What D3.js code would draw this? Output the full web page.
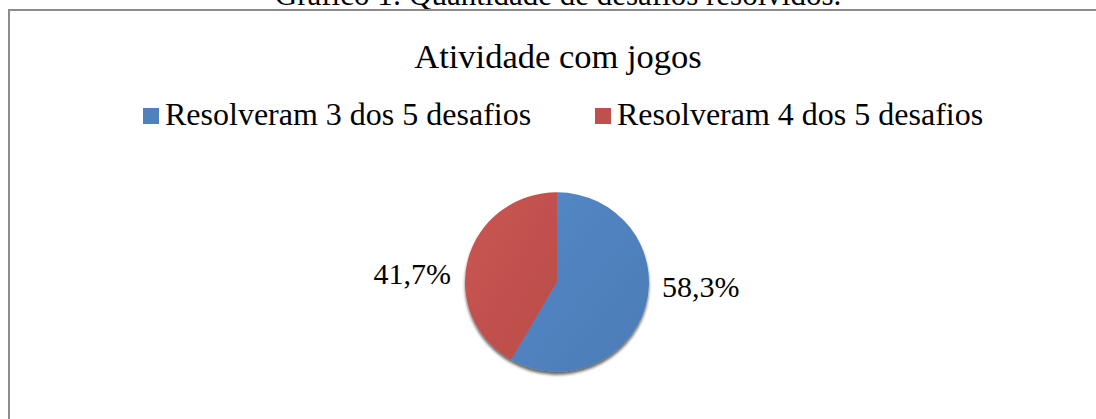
<!DOCTYPE html>
<html>
<head>
<meta charset="utf-8">
<script src="https://cdn.jsdelivr.net/npm/d3@7"></script>
<style>
  html, body { margin: 0; padding: 0; background: #fff; }
  svg { display: block; }
</style>
</head>
<body>
<div id="chart-div"></div>
<script>
// chart data
var caption = "Gráfico 1: Quantidade de desafios resolvidos.",
    chartTitle = "Atividade com jogos";
var categories = ["Resolveram 3 dos 5 desafios", "Resolveram 4 dos 5 desafios"],
    values = [58.3, 41.7],
    labels = ["58,3%", "41,7%"],
    colors = ["#4F81BD", "#C0504D"];

var width = 1096,
    height = 419,
    serif = "Liberation Serif";

var svg = d3.select("#chart-div").append("svg")
    .attr("width", width)
    .attr("height", height);

var defs = svg.append("defs");

// soft gradients to mimic the office-style shading
colors.forEach(function(c, i) {
    var g = defs.append("linearGradient")
        .attr("id", "grad" + i)
        .attr("x1", "0").attr("y1", "0")
        .attr("x2", "1").attr("y2", "1");
    g.append("stop").attr("offset", "0%").attr("stop-color", d3.color(c).brighter(0.15));
    g.append("stop").attr("offset", "100%").attr("stop-color", d3.color(c).darker(0.1));
});

var shadow = defs.append("filter").attr("id", "shadow")
    .attr("x", "-20%").attr("y", "-20%").attr("width", "140%").attr("height", "140%");
shadow.append("feGaussianBlur").attr("in", "SourceAlpha").attr("stdDeviation", 1.5);
shadow.append("feOffset").attr("dx", 0).attr("dy", 3).attr("result", "off");
shadow.append("feComponentTransfer").append("feFuncA").attr("type", "linear").attr("slope", 0.6);
var merge = shadow.append("feMerge");
merge.append("feMergeNode");
merge.append("feMergeNode").attr("in", "SourceGraphic");

// caption above the frame (partially cut off at the top, as in the source)
svg.append("text")
    .attr("x", 558)
    .attr("y", 5)
    .attr("text-anchor", "middle")
    .attr("font-family", serif)
    .attr("font-size", 31)
    .attr("fill", "#000")
    .text(caption);

// chart frame
svg.append("path")
    .attr("d", "M9," + (height + 5) + "V10H" + (width + 5))
    .attr("fill", "none")
    .attr("stroke", "#8c8c8c")
    .attr("stroke-width", 2);

// title
svg.append("text")
    .attr("x", 558)
    .attr("y", 68)
    .attr("text-anchor", "middle")
    .attr("font-family", serif)
    .attr("font-size", 34.5)
    .attr("fill", "#000")
    .text(chartTitle);

// legend
var legendX = [143, 595];
var legend = svg.selectAll("g.legend")
    .data(categories)
    .enter()
    .append("g")
        .attr("class", "legend")
        .attr("transform", function(d, i) { return "translate(" + legendX[i] + ",125)"; });
legend.append("rect")
    .attr("x", 0)
    .attr("y", -17)
    .attr("width", 16)
    .attr("height", 16)
    .attr("fill", function(d, i) { return colors[i]; });
legend.append("text")
    .attr("x", 22)
    .attr("y", 0)
    .attr("font-family", serif)
    .attr("font-size", 32)
    .attr("fill", "#000")
    .text(function(d) { return d; });

// pie
var cx = 557,
    cy = 282,
    radius = 92;

var pie = d3.pie().sort(null).value(function(d) { return d; });
var arc = d3.arc().innerRadius(0).outerRadius(radius);
var arcs = pie(values);

var pieG = svg.append("g")
    .attr("transform", "translate(" + cx + "," + cy + ") scale(1,0.975)")
    .attr("filter", "url(#shadow)");

pieG.selectAll("path")
    .data(arcs)
    .enter()
    .append("path")
        .attr("d", arc)
        .attr("fill", function(d, i) { return "url(#grad" + i + ")"; });

// data labels outside the pie
var labelPos = [
    { x: 662, y: 297, anchor: "start" },
    { x: 451, y: 284, anchor: "end" }
];
svg.selectAll("text.label")
    .data(arcs)
    .enter()
    .append("text")
        .attr("class", "label")
        .attr("x", function(d, i) { return labelPos[i].x; })
        .attr("y", function(d, i) { return labelPos[i].y; })
        .attr("text-anchor", function(d, i) { return labelPos[i].anchor; })
        .attr("font-family", serif)
        .attr("font-size", 30)
        .attr("fill", "#000")
        .text(function(d, i) { return labels[i]; });
</script>
</body>
</html>
